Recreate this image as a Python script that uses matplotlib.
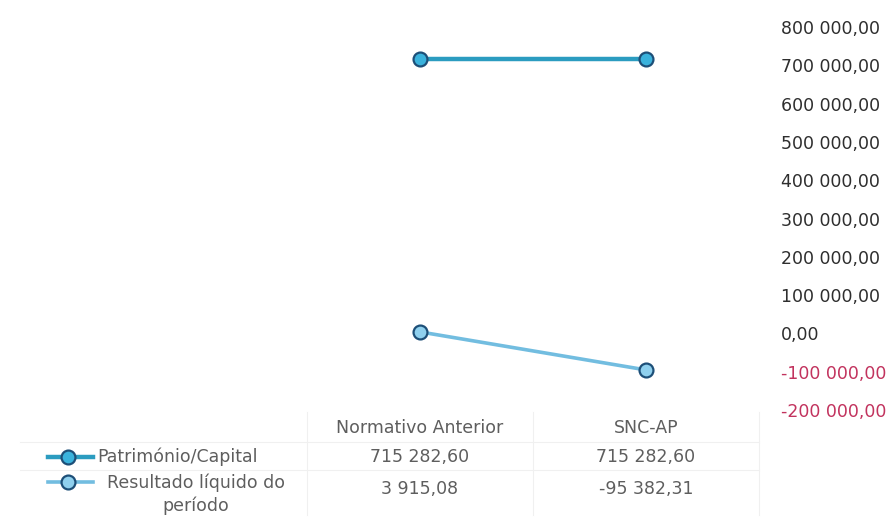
import matplotlib
matplotlib.use("Agg")
import matplotlib.pyplot as plt
from matplotlib.lines import Line2D
from matplotlib.transforms import blended_transform_factory

plt.rcParams["font.family"] = ["DejaVu Sans"]

categories = ["Normativo Anterior", "SNC-AP"]
patrimonio = [715282.60, 715282.60]
resultado = [3915.08, -95382.31]
series_names = ["Património/Capital", "Resultado líquido do\nperíodo"]
y_ticks = [-200000, -100000, 0, 100000, 200000, 300000, 400000, 500000, 600000, 700000, 800000]


def fmt_pt(v):
    # portuguese style: space thousands, comma decimals
    s = f"{v:,.2f}"
    return s.replace(",", " ").replace(".", ",")


W, H = 893, 520
fig = plt.figure(figsize=(W / 100, H / 100), dpi=100)
ax = fig.add_axes([307 / W, 1 - 410 / H, (759 - 307) / W, (410 - 27) / H])

x = [0.5, 1.5]
col_pat = "#2b9cc0"
col_res = "#72bde0"
edge = "#1d4f78"

ax.plot(x, patrimonio, color=col_pat, lw=3.2, marker="o", ms=10,
        mfc="#3ab2dc", mec=edge, mew=1.6, solid_capstyle="butt")
ax.plot(x, resultado, color=col_res, lw=2.6, marker="o", ms=10,
        mfc="#8fd0ee", mec=edge, mew=1.6, solid_capstyle="butt")

ax.set_xlim(0, 2)
ax.set_ylim(-200000, 800000)
ax.set_xticks([])
ax.yaxis.tick_right()
ax.set_yticks(y_ticks)
ax.set_yticklabels([fmt_pt(v) if v != 0 else "0,00" for v in y_ticks])
ax.tick_params(axis="y", length=0, pad=16, labelsize=12.5)
for lab, v in zip(ax.get_yticklabels(), y_ticks):
    lab.set_color("#c2335e" if v < 0 else "#2e2e2e")
for sp in ax.spines.values():
    sp.set_visible(False)

# data table under the plot
tr = blended_transform_factory(ax.transData, fig.transFigure)
txt_col = "#5e5e5e"
fs = 12.5


def fy(py):
    return 1 - py / H


for xi, cat in zip(x, categories):
    fig.text(xi, fy(428), cat, transform=tr, ha="center", va="center", color=txt_col, fontsize=fs)
for xi, v in zip(x, patrimonio):
    fig.text(xi, fy(457), fmt_pt(v), transform=tr, ha="center", va="center", color=txt_col, fontsize=fs)
for xi, v in zip(x, resultado):
    fig.text(xi, fy(489), fmt_pt(v), transform=tr, ha="center", va="center", color=txt_col, fontsize=fs)

# row headers with legend keys
fig.text(97 / W, fy(457), series_names[0], ha="left", va="center", color=txt_col, fontsize=fs)
fig.text(196 / W, fy(494), series_names[1], ha="center", va="center", color=txt_col,
         fontsize=fs, linespacing=1.3)

fig.add_artist(Line2D([48 / W, 93 / W], [fy(457)] * 2, color=col_pat, lw=3.2,
                      transform=fig.transFigure))
fig.add_artist(Line2D([68 / W], [fy(457)], color=col_pat, marker="o", ms=10, ls="none",
                      mfc="#3ab2dc", mec=edge, mew=1.6, transform=fig.transFigure))
fig.add_artist(Line2D([48 / W, 93 / W], [fy(482)] * 2, color=col_res, lw=2.6,
                      transform=fig.transFigure))
fig.add_artist(Line2D([68 / W], [fy(482)], color=col_res, marker="o", ms=10, ls="none",
                      mfc="#8fd0ee", mec=edge, mew=1.6, transform=fig.transFigure))

# faint table grid
grid_col = "#f0f0f0"
for px in [307, 533, 759]:
    fig.add_artist(Line2D([px / W] * 2, [fy(412), fy(515)], color=grid_col, lw=0.8,
                          transform=fig.transFigure))
for py in [442, 470]:
    fig.add_artist(Line2D([20 / W, 759 / W], [fy(py)] * 2, color=grid_col, lw=0.8,
                          transform=fig.transFigure))

fig.savefig("out.png", dpi=100, facecolor="white")
